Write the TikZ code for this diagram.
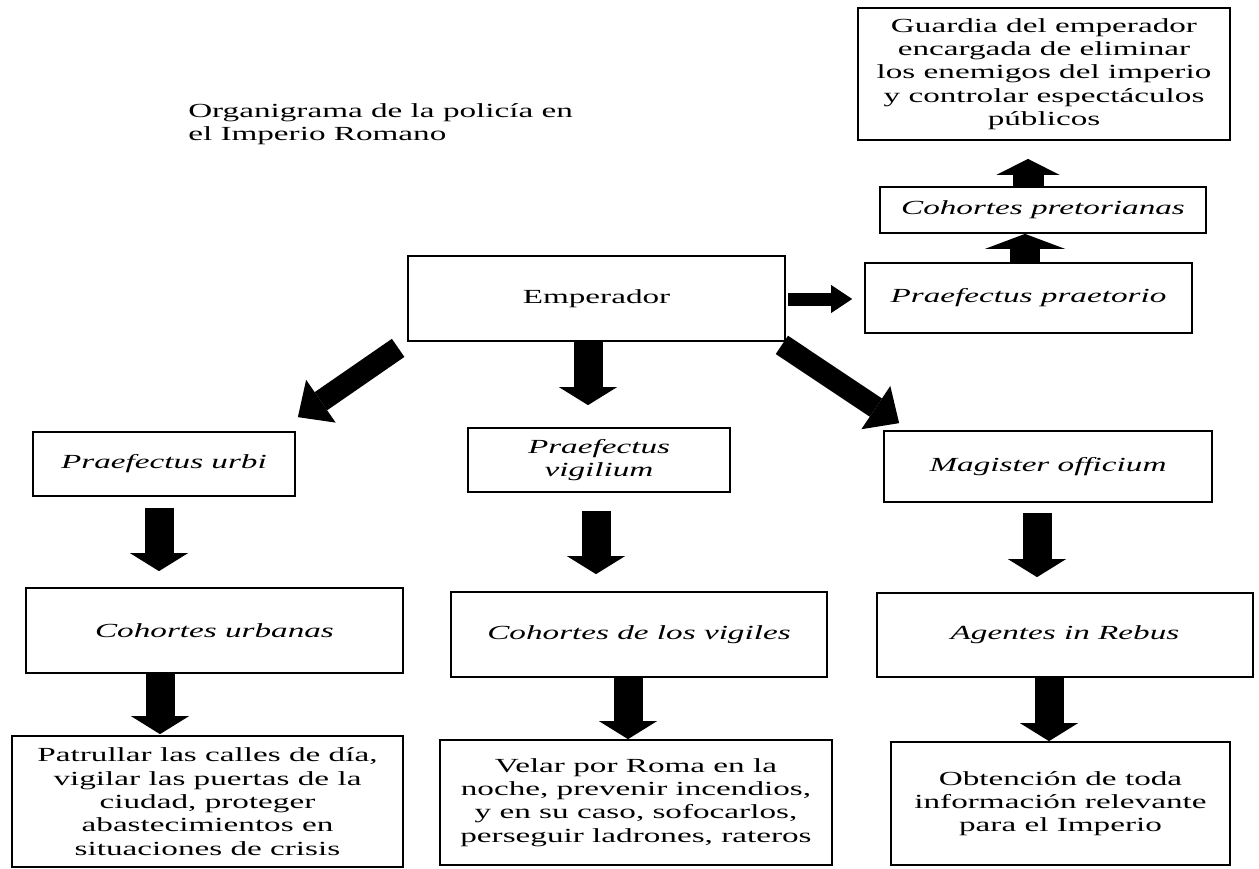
\documentclass[tikz,border=0pt]{standalone}
\usepackage{fontspec}
\setmainfont{Liberation Serif}[FakeStretch=1.66]
\usetikzlibrary{arrows.meta,calc}
\begin{document}
\begin{tikzpicture}[x=0.75pt,y=-0.75pt,
  txt/.style={font=\fontsize{15pt}{17.5pt}\selectfont},
  box/.style={txt, draw=black, line width=1.3pt, rectangle, inner sep=0pt, align=center},
  ibox/.style={box, font=\fontsize{15pt}{17.5pt}\selectfont\itshape},
  downarrow/.style={line width=21.75pt, -{Triangle[width=43.5pt, length=13.5pt, line width=0pt]}},
  diagarrow/.style={line width=16.5pt, -{Triangle[width=39pt, length=21pt, line width=0pt]}}
]
\useasboundingbox (0,0) rectangle (1259,868);

\node[txt, anchor=north west, inner sep=0pt, align=left] (title) at (188,103)
  {Organigrama de la policía en\\el Imperio Romano};

\node[box, minimum width=279pt, minimum height=99pt] (guard) at (1044,74)
  {Guardia del emperador\\encargada de eliminar\\los enemigos del imperio\\y controlar espectáculos\\públicos};
\node[ibox, minimum width=244.5pt, minimum height=34.5pt] (cpret) at (1043,210) {Cohortes pretorianas};
\node[ibox, minimum width=245.25pt, minimum height=52.5pt] (ptor) at (1028.5,298) {Praefectus praetorio};
\node[box, minimum width=282.75pt, minimum height=63.75pt] (emp) at (596.5,298.5) {Emperador};

\node[ibox, minimum width=196.5pt, minimum height=48pt] (urbi) at (164,464) {Praefectus urbi};
\node[ibox, minimum width=196.5pt, minimum height=48pt] (pvig) at (599,460) {Praefectus\\vigilium};
\node[ibox, minimum width=246pt, minimum height=53.25pt] (mag) at (1048,466.5) {Magister officium};

\node[ibox, minimum width=282.75pt, minimum height=63.75pt] (curb) at (214.5,630.5) {Cohortes urbanas};
\node[ibox, minimum width=282pt, minimum height=63.75pt] (cvig) at (639,634.5) {Cohortes de los vigiles};
\node[ibox, minimum width=282pt, minimum height=63pt] (agen) at (1065,635) {Agentes in Rebus};

\node[box, minimum width=293.25pt, minimum height=98.25pt] (patr) at (207.5,801.5)
  {Patrullar las calles de día,\\vigilar las puertas de la\\ciudad, proteger\\abastecimientos en\\situaciones de crisis};
\node[box, minimum width=294pt, minimum height=93.75pt] (velar) at (636,802.5)
  {Velar por Roma en la\\noche, prevenir incendios,\\y en su caso, sofocarlos,\\perseguir ladrones, rateros};
\node[box, minimum width=254.25pt, minimum height=92.25pt] (obt) at (1060.5,803.5)
  {Obtención de toda\\información relevante\\para el Imperio};

% arrows from Emperador
\draw[line width=9.75pt, -{Triangle[width=21pt, length=15.75pt, line width=0pt]}]
  ($(emp.east)+(2,0.5)$) -- ($(ptor.west)+(-12,1)$);
\draw[downarrow] ($(emp.south)+(-8.5,0)$) -- ($(pvig.north)+(-11,-22)$);
\draw[diagarrow] ($(emp.south west)+(-9,6)$) -- ($(urbi.north east)+(2,-14)$);
\draw[diagarrow] ($(emp.south east)+(-4,3)$) -- ($(mag.north west)+(16,-7)$);

% upward arrows
\draw[line width=22.5pt, -{Triangle[width=60pt, length=11.25pt, line width=0pt]}]
  ($(ptor.north)+(-3.5,0)$) -- ($(cpret.south)+(-18,0)$);
\draw[line width=23.25pt, -{Triangle[width=47.25pt, length=12pt, line width=0pt]}]
  ($(cpret.north)+(-15,0)$) -- ($(guard.south)+(-16,18)$);

% second level
\draw[downarrow] ($(urbi.south)+(-5,11)$) -- ($(curb.north)+(-55.5,-16)$);
\draw[downarrow] ($(pvig.south)+(-3,18)$) -- ($(cvig.north)+(-43,-17)$);
\draw[downarrow] ($(mag.south)+(-11,10)$) -- ($(agen.north)+(-28,-15)$);

% third level
\draw[downarrow] ($(curb.south)+(-54.5,0)$) -- ($(patr.north)+(-47.5,-1)$);
\draw[downarrow] ($(cvig.south)+(-11,0)$) -- ($(velar.north)+(-8,0)$);
\draw[downarrow] ($(agen.south)+(-16,0)$) -- ($(obt.north)+(-11.5,0)$);
\end{tikzpicture}
\end{document}
